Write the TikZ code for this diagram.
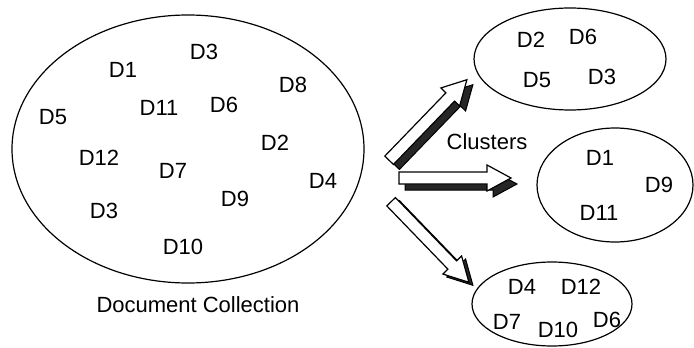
\documentclass[tikz,border=0pt]{standalone}
\usepackage{fontspec}
\setmainfont{Liberation Sans}
\usetikzlibrary{shapes.geometric}
\tikzset{
  doc/.style={font=\fontsize{11}{13}\selectfont, inner sep=0pt},
  cluster/.style={draw, ellipse, line width=0.6pt, inner sep=0pt},
  barrow/.pic={\path[pic actions] (-56,-6) -- (32,-6) -- (32,-13) -- (56,0) -- (32,13) -- (32,6) -- (-56,6) -- cycle;},
  shadowarr/.style={fill=black!85, draw=black, line width=0.5pt},
  whitearr/.style={fill=white, draw=black, line width=0.6pt}
}
\begin{document}
\begin{tikzpicture}[x=0.5pt, y=-0.5pt]
\useasboundingbox (0,0) rectangle (694,347);
% big collection
\node[cluster, minimum width=176pt, minimum height=134pt] (coll) at (188,149) {};
\node[doc] (a1) at (204,52) {D3};
\node[doc] (a2) at (123,70) {D1};
\node[doc] (a3) at (293,85) {D8};
\node[doc] (a4) at (53,117) {D5};
\node[doc] (a5) at (159,108) {D11};
\node[doc] (a6) at (224,105) {D6};
\node[doc] (a7) at (275,143) {D2};
\node[doc] (a8) at (99,158) {D12};
\node[doc] (a9) at (173,171) {D7};
\node[doc] (a10) at (323,181) {D4};
\node[doc] (a11) at (235,199) {D9};
\node[doc] (a12) at (104,211) {D3};
\node[doc] (a13) at (183,247) {D10};
\node[doc] (colllab) at (198,305) {Document Collection};
% arrows
\pic[rotate=46, shadowarr] at (434,125) {barrow};
\pic[rotate=46, whitearr] at (428,120) {barrow};
\pic[rotate=0, shadowarr] at (461,184) {barrow};
\pic[rotate=0, whitearr] at (455,178) {barrow};
\pic[rotate=-46, shadowarr] at (434,245) {barrow};
\pic[rotate=-46, whitearr] at (430,242) {barrow};
\node[doc] (clab) at (487,142) {Clusters};
% cluster 1
\node[cluster, minimum width=96pt, minimum height=51pt] (k1) at (570,59) {};
\node[doc] (b1) at (531,40) {D2};
\node[doc] (b2) at (583,37) {D6};
\node[doc] (b3) at (537,80) {D5};
\node[doc] (b4) at (602,77) {D3};
% cluster 2
\node[cluster, minimum width=78pt, minimum height=57pt] (k2) at (615,185) {};
\node[doc] (c1) at (600,158) {D1};
\node[doc] (c2) at (659,185) {D9};
\node[doc] (c3) at (599,213) {D11};
% cluster 3
\node[cluster, minimum width=80pt, minimum height=42pt] (k3) at (552,304) {};
\node[doc] (d1) at (522,287) {D4};
\node[doc] (d2) at (581,287) {D12};
\node[doc] (d3) at (507,322) {D7};
\node[doc] (d4) at (558,330) {D10};
\node[doc] (d5) at (607,320) {D6};
\end{tikzpicture}
\end{document}
